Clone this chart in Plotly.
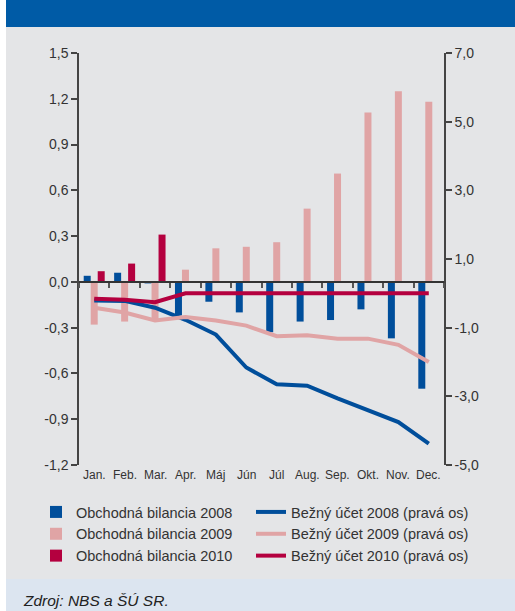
import plotly.graph_objects as go

months = ["Jan.", "Feb.", "Mar.", "Apr.", "Máj", "Jún", "Júl", "Aug.", "Sep.", "Okt.", "Nov.", "Dec."]

ob2008 = [0.04, 0.06, -0.01, -0.22, -0.13, -0.20, -0.33, -0.26, -0.25, -0.18, -0.37, -0.70]
ob2009 = [-0.28, -0.26, -0.25, 0.08, 0.22, 0.23, 0.26, 0.48, 0.71, 1.11, 1.25, 1.18]
ob2010 = [0.07, 0.12, 0.31, None, None, None, None, None, None, None, None, None]

bu2008 = [-0.21, -0.22, -0.42, -0.77, -1.20, -2.16, -2.65, -2.69, -3.06, -3.40, -3.75, -4.38]
bu2009 = [-0.42, -0.56, -0.79, -0.69, -0.79, -0.94, -1.25, -1.22, -1.32, -1.32, -1.50, -2.00]
bu2010 = [-0.16, -0.19, -0.26, 0.0, 0.0, 0.0, 0.0, 0.0, 0.0, 0.0, 0.0, 0.0]

left_ticks = [1.5, 1.2, 0.9, 0.6, 0.3, 0.0, -0.3, -0.6, -0.9, -1.2]
right_ticks = [7.0, 5.0, 3.0, 1.0, -1.0, -3.0, -5.0]

BLUE = "#004e9b"
PINK = "#e0a4a5"
RED = "#b4003f"
GRAY_BG = "#e4e5e7"
HEADER = "#005ba6"
SOURCE_BG = "#dce5f0"
TXT = "#333333"

W, H = 515, 611
ML, MR, MT, MB = 79, 71, 53, 146
PW, PH = W - ML - MR, H - MT - MB


def px_x(x):
    return (x - ML) / PW


def px_y(y):
    return (H - MB - y) / PH


def fmt(v):
    return f"{v:.1f}".replace(".", ",")


fig = go.Figure()

for name, vals, col in [("Obchodná bilancia 2008", ob2008, BLUE),
                        ("Obchodná bilancia 2009", ob2009, PINK),
                        ("Obchodná bilancia 2010", ob2010, RED)]:
    fig.add_trace(go.Bar(x=months, y=vals, name=name, marker=dict(color=col, line=dict(width=0)),
                         xaxis="x", yaxis="y", legend="legend"))

for name, vals, col in [("Bežný účet 2008 (pravá os)", bu2008, BLUE),
                        ("Bežný účet 2009 (pravá os)", bu2009, PINK),
                        ("Bežný účet 2010 (pravá os)", bu2010, RED)]:
    fig.add_trace(go.Scatter(x=months, y=vals, name=name, mode="lines",
                             line=dict(color=col, width=4),
                             xaxis="x", yaxis="y2", legend="legend2"))

shapes = [
    dict(type="rect", xref="paper", yref="paper", x0=px_x(0), x1=px_x(W), y0=px_y(27), y1=px_y(0),
         fillcolor=HEADER, line=dict(width=0), layer="above"),
    dict(type="rect", xref="paper", yref="paper", x0=px_x(0), x1=px_x(W), y0=px_y(H), y1=px_y(579),
         fillcolor=SOURCE_BG, line=dict(width=0), layer="above"),
    dict(type="rect", xref="paper", yref="paper", x0=px_x(0), x1=px_x(6), y0=px_y(H), y1=px_y(0),
         fillcolor="white", line=dict(width=0), layer="above"),
]

annotations = [
    dict(x=m, y=0, xref="x", yref="paper", text=m, showarrow=False, yanchor="top", yshift=-1,
         font=dict(family="Liberation Sans Narrow, Arial Narrow, Liberation Sans, sans-serif", size=12, color=TXT))
    for m in months
]
annotations.append(dict(x=px_x(21), y=px_y(600), xref="paper", yref="paper", xanchor="left", yanchor="middle",
                        text="Zdroj: NBS a ŠÚ SR.", showarrow=False,
                        font=dict(family="Liberation Sans, sans-serif", size=15.5,
                                  color="#222222", style="italic")))

fig.update_layout(
    width=W, height=H,
    margin=dict(l=ML, r=MR, t=MT, b=MB, pad=0),
    paper_bgcolor=GRAY_BG, plot_bgcolor=GRAY_BG,
    barmode="group", bargap=0.31, bargroupgap=0,
    font=dict(family="Liberation Sans, Arial, sans-serif", color=TXT),
    xaxis=dict(type="category", categoryorder="array", categoryarray=months, range=[-0.5, 11.5],
               anchor="free", position=1.2 / 2.7, showline=True, linecolor="#333333", linewidth=2,
               ticks="outside", tickson="boundaries", ticklen=5, tickwidth=1.5, tickcolor="#555555",
               showticklabels=False, showgrid=False, zeroline=False),
    yaxis=dict(range=[-1.2, 1.5], tickvals=left_ticks, ticktext=[fmt(v) for v in left_ticks],
               showline=True, linecolor="#444444", linewidth=1.5, ticks="outside", ticklen=6,
               tickcolor="#444444", tickwidth=1.5, showgrid=False, zeroline=False,
               tickfont=dict(size=14, color=TXT)),
    yaxis2=dict(range=[-5, 7], overlaying="y", side="right", anchor="x", tickvals=right_ticks,
                ticktext=[fmt(v) for v in right_ticks],
                showline=True, linecolor="#444444", linewidth=1.5, ticks="outside", ticklen=6,
                tickcolor="#444444", tickwidth=1.5, showgrid=False, zeroline=False,
                tickfont=dict(size=14, color=TXT)),
    legend=dict(x=px_x(36), y=px_y(496), xanchor="left", yanchor="top", orientation="v",
                bgcolor="rgba(0,0,0,0)", font=dict(size=14.5, color=TXT), tracegroupgap=0,
                itemclick=False),
    legend2=dict(x=px_x(251), y=px_y(496), xanchor="left", yanchor="top", orientation="v",
                 bgcolor="rgba(0,0,0,0)", font=dict(size=14.5, color=TXT), tracegroupgap=0,
                 itemclick=False),
    shapes=shapes,
    annotations=annotations,
)

fig.write_html("out.html", config={"displayModeBar": False},
               post_script="document.body.style.margin='0px';document.body.style.overflow='hidden';")
